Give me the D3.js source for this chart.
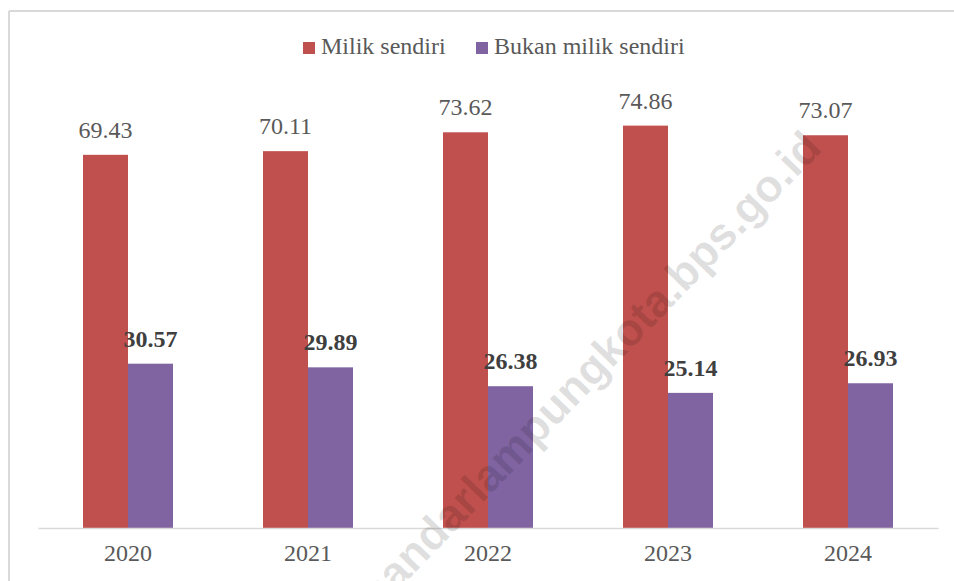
<!DOCTYPE html>
<html>
<head>
<meta charset="utf-8">
<script src="https://cdn.jsdelivr.net/npm/d3@7"></script>
<style>
  body { margin: 0; background: #fff; }
</style>
</head>
<body>
<div id="chart"></div>
<script>
// data
var years = ["2020", "2021", "2022", "2023", "2024"];
var seriesNames = ["Milik sendiri", "Bukan milik sendiri"];
var milikSendiri = [69.43, 70.11, 73.62, 74.86, 73.07];
var bukanMilikSendiri = [30.57, 29.89, 26.38, 25.14, 26.93];
var seriesColors = ["#C0504D", "#8064A2"];

var serifFont = "Liberation Serif, Tinos, Times New Roman, Times, DejaVu Serif, serif";
var sansFont = "Liberation Sans, Arimo, Arial, DejaVu Sans, sans-serif";

var width = 954, height = 581;
var margin = {top: 98, right: 15, bottom: 53, left: 38};

var svg = d3.select("#chart")
  .append("svg")
  .attr("width", width)
  .attr("height", height)
  .attr("font-family", serifFont);

// chart frame (only top and left edges visible in the crop)
svg.append("line")
  .attr("x1", 9).attr("y1", 11).attr("x2", width).attr("y2", 11)
  .attr("stroke", "#d9d9d9").attr("stroke-width", 2);
svg.append("line")
  .attr("x1", 9).attr("y1", 11).attr("x2", 9).attr("y2", height)
  .attr("stroke", "#d9d9d9").attr("stroke-width", 2);

var data = years.map(function(y, i) {
  return {year: y, values: [milikSendiri[i], bukanMilikSendiri[i]]};
});

var x0 = d3.scaleBand()
  .domain(years)
  .range([margin.left, width - margin.right - 1])
  .paddingInner(0.5)
  .paddingOuter(0.25);

var x1 = d3.scaleBand()
  .domain([0, 1])
  .range([0, x0.bandwidth()]);

var y = d3.scaleLinear()
  .domain([0, 80])
  .range([height - margin.bottom, margin.top]);

var groups = svg.append("g")
  .selectAll("g")
  .data(data)
  .enter()
  .append("g")
  .attr("transform", function(d) { return "translate(" + x0(d.year) + ",0)"; });

groups.selectAll("rect")
  .data(function(d) { return d.values; })
  .enter()
  .append("rect")
  .attr("x", function(d, i) { return x1(i); })
  .attr("y", function(d) { return y(d); })
  .attr("width", x1.bandwidth())
  .attr("height", function(d) { return y(0) - y(d); })
  .attr("fill", function(d, i) { return seriesColors[i]; });

groups.selectAll("text.val")
  .data(function(d) { return d.values; })
  .enter()
  .append("text")
  .attr("class", "val")
  .attr("x", function(d, i) { return x1(i) + x1.bandwidth() / 2; })
  .attr("y", function(d) { return y(d) - 17; })
  .attr("text-anchor", "middle")
  .attr("font-family", serifFont)
  .attr("font-size", 24)
  .attr("font-weight", function(d, i) { return i == 1 ? "bold" : "normal"; })
  .attr("fill", function(d, i) { return i == 1 ? "#3f3f3f" : "#595959"; })
  .text(function(d) { return d.toFixed(2); });

// x axis
var xAxis = d3.axisBottom(x0).tickSize(0).tickPadding(16);
var gx = svg.append("g")
  .attr("transform", "translate(0," + y(0) + ")")
  .call(xAxis)
  .attr("font-family", serifFont)
  .attr("font-size", 24);
gx.select(".domain")
  .attr("stroke", "#d9d9d9")
  .attr("stroke-width", 1.5);
gx.selectAll("text")
  .attr("font-family", serifFont)
  .attr("fill", "#595959");

// legend
var legendX = [303, 476];
var legend = svg.append("g")
  .selectAll("g")
  .data(seriesNames)
  .enter()
  .append("g")
  .attr("transform", function(d, i) { return "translate(" + legendX[i] + ",42)"; });
legend.append("rect")
  .attr("width", 12).attr("height", 12)
  .attr("fill", function(d, i) { return seriesColors[i]; });
legend.append("text")
  .attr("x", 18)
  .attr("y", 12)
  .attr("font-family", serifFont)
  .attr("font-size", 24)
  .attr("fill", "#595959")
  .text(function(d) { return d; });

// watermark (runs off the bottom edge, like the original)
svg.append("text")
  .attr("transform", "translate(589,370) rotate(-46)")
  .attr("text-anchor", "middle")
  .attr("dy", "0.35em")
  .attr("font-family", sansFont)
  .attr("font-weight", "bold")
  .attr("font-size", 45)
  .attr("fill", "#000")
  .attr("fill-opacity", 0.12)
  .text("bandarlampungkota.bps.go.id");
</script>
</body>
</html>
